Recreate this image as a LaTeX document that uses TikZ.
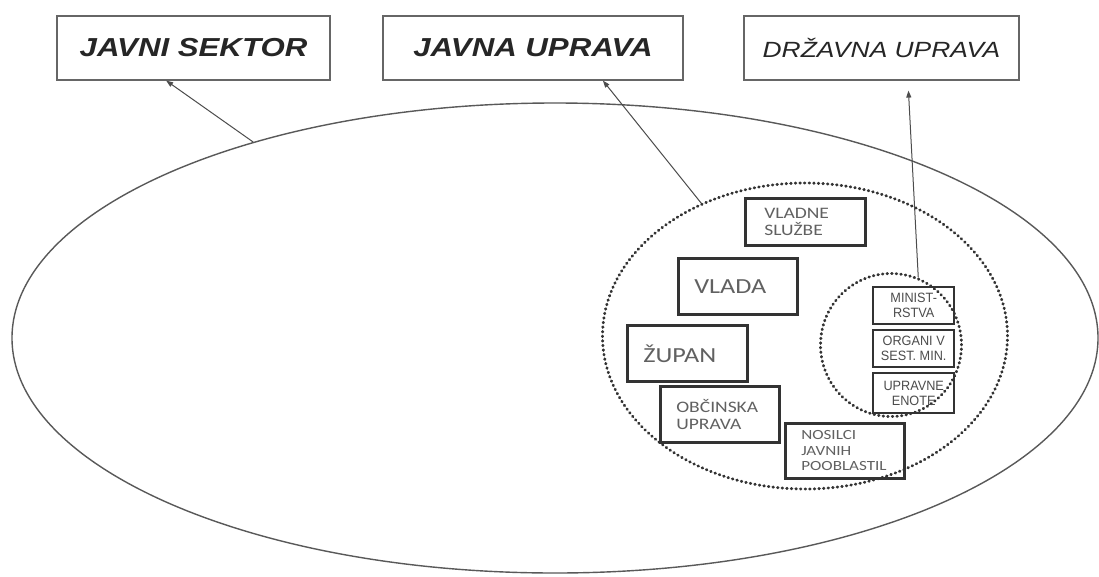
\documentclass[tikz,border=0pt]{standalone}
\usepackage{fontspec}
\setmainfont{Liberation Sans}
\newfontfamily\headfont[FakeStretch=1.2]{Liberation Sans}
\newfontfamily\bodyfont[FakeStretch=1.22]{Carlito}
\newfontfamily\narrowfont[FakeStretch=0.94]{Liberation Sans}
\usetikzlibrary{shapes.geometric,arrows.meta}
\usetikzlibrary{positioning}

\begin{document}
\begin{tikzpicture}[x=1pt,y=-1pt,
    topbox/.style={draw=black!60, line width=1.2pt, inner sep=0pt,
        minimum height=64pt, text=black!85},
    ibox/.style={draw=black!80, line width=2.6pt, anchor=north west,
        inner ysep=0pt, inner xsep=16pt, align=left, text=black!62,
        font=\bodyfont\fontsize{16}{17}\selectfont},
    mbox/.style={draw=black!80, line width=2.4pt, inner sep=0pt,
        minimum width=81pt, align=center, text=black!70,
        font=\narrowfont\fontsize{13.5}{15}\selectfont},
    dots/.style={draw=black!80, line width=2.9pt, line cap=round,
        dash pattern=on 0.6pt off 4pt},
    arr/.style={draw=black!70, line width=1pt,
        -{Triangle[length=7pt,width=5pt]}}]
    \useasboundingbox (0,0) rectangle (1099,576);
    \fill[white] (0,0) rectangle (1099,576);

    % ellipses
    \node[ellipse, draw=black!65, line width=1.4pt, minimum width=1086pt,
        minimum height=470pt] (sektor) at (555,338) {};
    \node[ellipse, dots, minimum width=405pt, minimum height=306pt]
        (uprava) at (805,336) {};
    \node[ellipse, dots, minimum width=141pt, minimum height=143pt]
        (drzava) at (891,345) {};

    % top boxes
    \node[topbox, minimum width=273pt,
        font=\headfont\bfseries\itshape\fontsize{26}{30}\selectfont]
        (js) at (193.5,48) {JAVNI SEKTOR};
    \node[topbox, minimum width=300pt,
        font=\headfont\bfseries\itshape\fontsize{26}{30}\selectfont]
        (ju) at (533,48) {JAVNA UPRAVA};
    \node[topbox, minimum width=275pt,
        font=\headfont\itshape\fontsize{22}{26}\selectfont]
        (du) at (881.5,48) {DRŽAVNA UPRAVA};

    % inner boxes
    \node[ibox, minimum width=120pt, minimum height=47pt, text width=82pt,
        inner xsep=19pt] (sluzbe) at (744,197) {VLADNE\\SLUŽBE};
    \node[ibox, minimum width=119pt, minimum height=56pt, text width=87pt,
        font=\bodyfont\fontsize{21.5}{24}\selectfont]
        (vlada) at (677,257) {VLADA};
    \node[ibox, minimum width=120pt, minimum height=56pt, text width=88pt,
        font=\bodyfont\fontsize{21.5}{24}\selectfont]
        (zupan) at (626,324) {ŽUPAN};
    \node[ibox, minimum width=119pt, minimum height=56pt, text width=87pt]
        (obcina) at (659,385) {OBČINSKA\\UPRAVA};
    \node[ibox, minimum width=119pt, minimum height=55pt, text width=87pt,
        font=\bodyfont\fontsize{14}{15.5}\selectfont]
        (nosilci) at (784,422) {NOSILCI\\JAVNIH\\POOBLASTIL};

    \node[mbox, minimum height=37pt, anchor=north west]
        (min) at (872,286) {MINIST-\\RSTVA};
    \node[mbox, minimum height=37pt, below=3.5pt of min] (organi)
        {ORGANI V\\SEST. MIN.};
    \node[mbox, minimum height=40pt, below=3.5pt of organi] (enote)
        {UPRAVNE\\ENOTE};

    % arrows
    \draw[arr] (sektor.147) -- (js.230);
    \draw[arr] (uprava.128) -- (ju.335);
    \draw[arr, shorten >=10pt] (drzava.68) -- (du.309);
\end{tikzpicture}
\end{document}
